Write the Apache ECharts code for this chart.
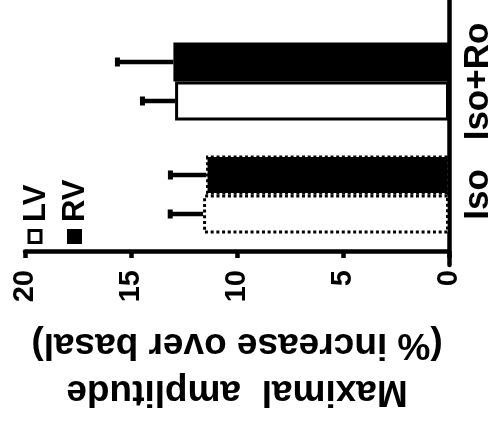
<!DOCTYPE html>
<html><head><meta charset="utf-8">
<script src="https://cdn.jsdelivr.net/npm/echarts@6/dist/echarts.min.js"></script>
<style>html,body{margin:0;padding:0;background:#fff}#c{width:496px;height:427px}</style>
</head><body><div id="c"></div>
<script>
// ---- data ----
const categories = ['Iso', 'Iso+Ro'];
const seriesNames = ['LV', 'RV'];
const lvMean = [11.6, 12.92];
const lvErr = [1.55, 1.54];
const rvMean = [11.46, 13.0];
const rvErr = [1.68, 2.64];
const axisMin = 0, axisMax = 20, axisStep = 5;
const axisTitle = ['Maximal  amplitude', '(% increase over basal)'];

// ---- styling ----
const FONT = '"Liberation Sans", Arial, Helvetica, sans-serif';
const INK = '#000';
const BAR_W = 39;
const DOTS = [3, 2.7];
const fills = { LV: '#fff', RV: '#000' };
const means = { LV: lvMean, RV: rvMean };
const errs = { LV: lvErr, RV: rvErr };
// drawing order (first series sits on top within a band)
const order = ['RV', 'LV'];

const chart = echarts.init(document.getElementById('c'), null, { renderer: 'canvas' });

const barSeries = order.map(nm => ({
  type: 'bar', name: nm, xAxisIndex: 0, yAxisIndex: 0,
  barWidth: BAR_W, barGap: '0%',
  data: means[nm].map((v, i) => ({
    value: v,
    itemStyle: { color: fills[nm], borderColor: '#000', borderWidth: 3, borderType: i === 0 ? DOTS : 'solid' }
  })),
  z: 2
}));

const errData = [];
order.forEach((nm, k) => means[nm].forEach((m, i) => errData.push([i, m, errs[nm][i], k])));

const errSeries = {
  type: 'custom', xAxisIndex: 0, yAxisIndex: 0, z: 3,
  encode: { x: 1, y: 0 },
  data: errData,
  renderItem: function (params, api) {
    const cat = api.value(0), m = api.value(1), e = api.value(2), k = api.value(3);
    const p0 = api.coord([m, cat]);
    const p1 = api.coord([m + e, cat]);
    const y = p0[1] + (k - order.length / 2) * BAR_W + BAR_W / 2;
    return { type: 'group', children: [
      { type: 'line', shape: { x1: p0[0], y1: y, x2: p1[0], y2: y }, style: { stroke: '#000', lineWidth: 4.5 } },
      { type: 'line', shape: { x1: p1[0], y1: y - 4.5, x2: p1[0], y2: y + 4.5 }, style: { stroke: '#000', lineWidth: 5 } }
    ] };
  }
};

const legendX = [35, 74.5];
const graphic = seriesNames.map((nm, i) => ({
  type: 'group', x: legendX[i], y: 244, rotation: Math.PI / 2,
  children: [
    { type: 'rect', shape: { x: 1.5, y: -6, width: 12, height: 12 }, style: { fill: fills[nm], stroke: '#000', lineWidth: 3 } },
    { type: 'text', x: 22, y: 1, style: { text: nm, fill: INK, fontSize: 31, fontWeight: 'bold', fontFamily: FONT, verticalAlign: 'middle', align: 'left' } }
  ]
}));

chart.setOption({
  animation: false,
  backgroundColor: '#fff',
  grid: [
    { left: 25, right: 47, top: 25, bottom: 176 },
    { left: 25, right: 47, top: 0, bottom: 162 }
  ],
  xAxis: [
    {
      type: 'value', gridIndex: 0, min: axisMin, max: axisMax, interval: axisStep, inverse: true, position: 'bottom',
      axisLine: { show: true, onZero: false, lineStyle: { color: '#000', width: 4.5 } },
      axisTick: { show: true, length: 7, lineStyle: { color: '#000', width: 4.5 } },
      axisLabel: { rotate: 90, margin: 19, color: INK, fontSize: 29, fontWeight: 'bold', fontFamily: FONT },
      splitLine: { show: false },
      name: axisTitle.join('\n'), nameLocation: 'middle', nameRotate: 180, nameGap: 70,
      nameTextStyle: { fontSize: 37, fontWeight: 'bold', fontFamily: FONT, color: INK, lineHeight: 47 }
    },
    { type: 'value', gridIndex: 1, min: axisMin, max: axisMax, inverse: true, show: false }
  ],
  yAxis: [
    {
      type: 'category', gridIndex: 0, data: categories, position: 'right',
      axisLine: { show: false }, axisTick: { show: false }, splitLine: { show: false },
      axisLabel: { interval: 0, hideOverlap: false, rotate: 90, margin: 12, color: INK, fontSize: 35, fontWeight: 'bold', fontFamily: FONT }
    },
    {
      type: 'value', gridIndex: 1, position: 'right',
      axisLine: { show: true, onZero: false, lineStyle: { color: '#000', width: 4.5 } },
      axisTick: { show: false }, axisLabel: { show: false }, splitLine: { show: false }
    }
  ],
  series: barSeries.concat([errSeries]),
  graphic: graphic
});
</script></body></html>
